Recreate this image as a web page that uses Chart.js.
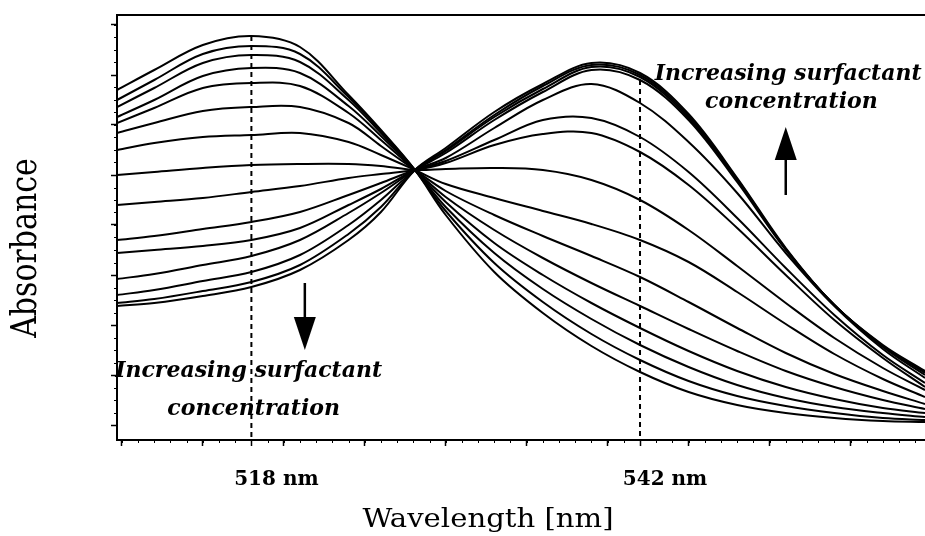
<!DOCTYPE html>
<html>
<head>
<meta charset="utf-8">
<title>Absorbance spectra</title>
<script src="https://cdn.jsdelivr.net/npm/chart.js@4.4.1/dist/chart.umd.min.js"></script>
<style>
    html, body { margin: 0; padding: 0; background: #fff; }
    #wrap { width: 925px; height: 536px; }
</style>
</head>
<body>
<div id="wrap"><canvas id="spectra" width="925" height="536"></canvas></div>
<script>
// wavelength grid (nm), shared by every spectrum
const wavelengths = [509.7, 512, 515, 518, 521, 524, 526, 528.1, 530, 533, 536, 539, 542, 545, 548, 551, 554, 557, 559.6];

// absorbance, lowest surfactant concentration first
const spectrum01 = [0.670, 0.710, 0.760, 0.778, 0.756, 0.660, 0.590, 0.510, 0.420, 0.306, 0.224, 0.158, 0.106, 0.066, 0.040, 0.024, 0.014, 0.008, 0.006];
const spectrum02 = [0.650, 0.690, 0.742, 0.758, 0.742, 0.656, 0.588, 0.510, 0.428, 0.324, 0.246, 0.182, 0.130, 0.088, 0.058, 0.038, 0.024, 0.014, 0.010];
const spectrum03 = [0.636, 0.674, 0.724, 0.740, 0.726, 0.650, 0.584, 0.510, 0.436, 0.344, 0.272, 0.212, 0.160, 0.116, 0.080, 0.054, 0.036, 0.024, 0.016];
const spectrum04 = [0.616, 0.650, 0.698, 0.714, 0.704, 0.638, 0.578, 0.510, 0.446, 0.364, 0.300, 0.244, 0.194, 0.148, 0.108, 0.076, 0.052, 0.034, 0.024];
const spectrum05 = [0.604, 0.634, 0.674, 0.684, 0.678, 0.624, 0.570, 0.510, 0.456, 0.390, 0.334, 0.284, 0.238, 0.192, 0.148, 0.108, 0.076, 0.050, 0.032];
const spectrum06 = [0.584, 0.604, 0.628, 0.636, 0.636, 0.604, 0.558, 0.510, 0.468, 0.420, 0.378, 0.338, 0.296, 0.246, 0.194, 0.144, 0.102, 0.068, 0.042];
const spectrum07 = [0.550, 0.564, 0.576, 0.580, 0.584, 0.566, 0.540, 0.510, 0.482, 0.454, 0.428, 0.402, 0.370, 0.326, 0.266, 0.202, 0.142, 0.092, 0.056];
const spectrum08 = [0.500, 0.506, 0.514, 0.520, 0.522, 0.522, 0.518, 0.510, 0.512, 0.514, 0.510, 0.490, 0.450, 0.390, 0.318, 0.244, 0.174, 0.114, 0.070];
const spectrum09 = [0.440, 0.446, 0.454, 0.466, 0.478, 0.494, 0.502, 0.510, 0.524, 0.560, 0.582, 0.584, 0.546, 0.480, 0.394, 0.300, 0.210, 0.134, 0.076];
const spectrum10 = [0.370, 0.378, 0.392, 0.406, 0.426, 0.460, 0.484, 0.510, 0.528, 0.570, 0.610, 0.614, 0.576, 0.506, 0.414, 0.314, 0.220, 0.140, 0.084];
const spectrum11 = [0.344, 0.350, 0.358, 0.370, 0.394, 0.440, 0.472, 0.510, 0.534, 0.594, 0.650, 0.682, 0.644, 0.566, 0.464, 0.344, 0.238, 0.152, 0.094];
const spectrum12 = [0.292, 0.302, 0.320, 0.338, 0.370, 0.424, 0.464, 0.510, 0.544, 0.610, 0.666, 0.710, 0.690, 0.610, 0.486, 0.350, 0.240, 0.156, 0.100];
const spectrum13 = [0.260, 0.270, 0.288, 0.306, 0.340, 0.400, 0.450, 0.510, 0.548, 0.616, 0.672, 0.716, 0.696, 0.614, 0.490, 0.352, 0.240, 0.158, 0.104];
const spectrum14 = [0.244, 0.252, 0.268, 0.286, 0.320, 0.382, 0.436, 0.510, 0.550, 0.620, 0.678, 0.720, 0.700, 0.618, 0.492, 0.352, 0.240, 0.158, 0.106];
const spectrum15 = [0.238, 0.244, 0.258, 0.276, 0.310, 0.370, 0.426, 0.510, 0.554, 0.626, 0.682, 0.724, 0.704, 0.622, 0.494, 0.354, 0.240, 0.160, 0.108];

// the two band maxima marked with dashed drop lines
const markerLines = [518, 542];
const markerTops = [0.778, 0.690];
const markerLabels = ['518 nm', '542 nm'];

// axis ticks
const xMajorTicks = [510, 515, 518, 520, 525, 530, 535, 540, 542, 545, 550, 555];
const yMajorTicks = [0, 0.1, 0.2, 0.3, 0.4, 0.5, 0.6, 0.7, 0.8];

const spectra = [spectrum01, spectrum02, spectrum03, spectrum04, spectrum05,
    spectrum06, spectrum07, spectrum08, spectrum09, spectrum10,
    spectrum11, spectrum12, spectrum13, spectrum14, spectrum15];

// notes and arrows, placed in data units
const notes = [
    { text: 'Increasing surfactant', x: 551.15, y: 0.702 },
    { text: 'concentration', x: 551.35, y: 0.646 },
    { text: 'Increasing surfactant', x: 517.83, y: 0.108 },
    { text: 'concentration', x: 518.14, y: 0.032 }
];
const arrows = [
    { x: 551.0, from: 0.460, to: 0.596 },
    { x: 521.3, from: 0.284, to: 0.150 }
];

const ink = '#000';

const datasets = spectra.map((values, i) => ({
    label: 'spectrum ' + (i + 1),
    data: wavelengths.map((w, j) => ({ x: w, y: values[j] })),
    borderColor: ink,
    borderWidth: 2,
    pointRadius: 0,
    tension: 0.35,
    fill: false
}));

markerLines.forEach((w, i) => {
    datasets.push({
        label: markerLabels[i],
        data: [{ x: w, y: markerTops[i] }, { x: w, y: -0.03 }],
        borderColor: ink,
        borderWidth: 2,
        borderDash: [5, 4],
        pointRadius: 0,
        tension: 0
    });
});

// text drawn with a slight horizontal stretch, like the printed figure
function stretchedText(ctx, text, x, y, font, sx, rotate) {
    ctx.save();
    ctx.translate(x, y);
    ctx.scale(sx, 1);
    if (rotate) ctx.rotate(-Math.PI / 2);
    ctx.font = font;
    ctx.textAlign = 'center';
    ctx.textBaseline = 'middle';
    ctx.fillText(text, 0, 0);
    ctx.restore();
}

const decorations = {
    id: 'decorations',
    afterDatasetsDraw(chart) {
        const { ctx, chartArea: area, scales: { x, y } } = chart;
        ctx.save();
        ctx.strokeStyle = ink;
        ctx.fillStyle = ink;

        // top frame line
        ctx.lineWidth = 2;
        ctx.beginPath();
        ctx.moveTo(area.left - 1, area.top);
        ctx.lineTo(area.right, area.top);
        ctx.stroke();

        // minor ticks
        ctx.lineWidth = 1;
        ctx.beginPath();
        for (let w = 510; w <= 559; w++) {
            const px = Math.round(x.getPixelForValue(w)) + 0.5;
            ctx.moveTo(px, area.bottom);
            ctx.lineTo(px, area.bottom + 3);
        }
        for (let k = 0; k <= 32; k++) {
            const py = Math.round(y.getPixelForValue(k * 0.025)) + 0.5;
            ctx.moveTo(area.left, py);
            ctx.lineTo(area.left - 3, py);
        }
        ctx.stroke();

        // arrows
        arrows.forEach(a => {
            const px = x.getPixelForValue(a.x);
            const y0 = y.getPixelForValue(a.from);
            const y1 = y.getPixelForValue(a.to);
            const dir = Math.sign(y1 - y0);
            const base = y1 - dir * 33;
            ctx.lineWidth = 2.5;
            ctx.beginPath();
            ctx.moveTo(px, y0);
            ctx.lineTo(px, base);
            ctx.stroke();
            ctx.beginPath();
            ctx.moveTo(px, y1);
            ctx.lineTo(px - 11, base);
            ctx.lineTo(px + 11, base);
            ctx.closePath();
            ctx.fill();
        });

        // notes
        notes.forEach(n => {
            stretchedText(ctx, n.text, x.getPixelForValue(n.x), y.getPixelForValue(n.y),
                'italic bold 22px "DejaVu Serif"', 1, false);
        });

        // axis titles
        stretchedText(ctx, 'Wavelength [nm]', 488, 520, '26px "DejaVu Serif"', 1.12, false);
        stretchedText(ctx, 'Absorbance', 27, 248, '30px "DejaVu Serif"', 1.15, true);

        ctx.restore();
    }
};

new Chart(document.getElementById('spectra'), {
    type: 'line',
    data: { datasets: datasets },
    options: {
        responsive: false,
        devicePixelRatio: 1,
        animation: false,
        events: [],
        layout: { padding: { top: 15, right: 0, bottom: 0, left: 0 } },
        plugins: {
            legend: { display: false },
            tooltip: { enabled: false }
        },
        scales: {
            x: {
                type: 'linear',
                min: 509.7,
                max: 559.6,
                afterFit: s => { s.height = 96; },
                afterBuildTicks: s => { s.ticks = xMajorTicks.map(v => ({ value: v })); },
                ticks: {
                    autoSkip: false,
                    maxRotation: 0,
                    labelOffset: 25,
                    padding: 22,
                    color: ink,
                    font: { family: 'DejaVu Serif', size: 20, weight: 'bold' },
                    callback: v => {
                        const i = markerLines.indexOf(v);
                        return i >= 0 ? markerLabels[i] : '';
                    }
                },
                grid: { drawOnChartArea: false, tickLength: 6, color: ink, tickWidth: 1.5 },
                border: { color: ink, width: 2 }
            },
            y: {
                type: 'linear',
                min: -0.03,
                max: 0.82,
                afterFit: s => { s.width = 117; },
                afterBuildTicks: s => { s.ticks = yMajorTicks.map(v => ({ value: v })); },
                ticks: { display: false },
                grid: { drawOnChartArea: false, tickLength: 6, color: ink, tickWidth: 1.5 },
                border: { color: ink, width: 2 }
            }
        }
    },
    plugins: [decorations]
});
</script>
</body>
</html>
